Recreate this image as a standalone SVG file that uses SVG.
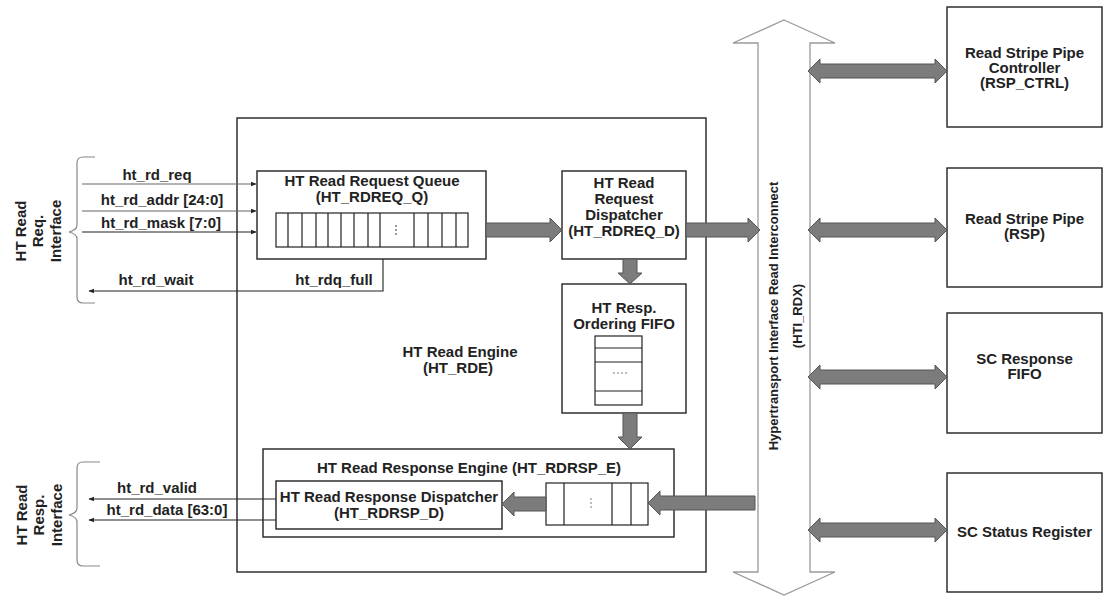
<svg xmlns="http://www.w3.org/2000/svg" width="1107" height="596" viewBox="0 0 1107 596">
<defs>
<style>
text{font-family:"Liberation Sans",Arial,sans-serif;font-weight:bold;font-size:15px;fill:#222;text-anchor:middle}
.box{fill:#fff;stroke:#222;stroke-width:1.4}
.cell{fill:none;stroke:#222;stroke-width:1.2}
.sig{fill:none;stroke:#222;stroke-width:1.1}
.sigl{fill:none;stroke:#666;stroke-width:1.1}
.fat{fill:#7c7c7c;stroke:#555;stroke-width:1}
.brace{fill:none;stroke:#888;stroke-width:1.2}
.dot{fill:#666}
</style>
<marker id="ah" viewBox="0 0 10 10" refX="9" refY="5" markerWidth="5" markerHeight="5" orient="auto">
<path d="M0,1 L10,5 L0,9 z" fill="#222"/>
</marker>
</defs>
<rect width="1107" height="596" fill="#fff"/>

<!-- bus -->
<g id="bus">
<polygon points="784,20 835,43 810,43 810,572 835,572 784,595 733,572 758,572 758,43 733,43" fill="#fff" stroke="#9a9a9a" stroke-width="1.3"/>
<text transform="translate(778,316) rotate(-90)" style="font-size:13px">Hypertransport Interface Read Interconnect</text>
<text transform="translate(802,316) rotate(-90)" style="font-size:13px">(HTI_RDX)</text>
</g>

<!-- main engine -->
<g id="ht_rde">
<rect class="box" x="237" y="118" width="469" height="454"/>
<text x="460" y="357">HT Read Engine</text>
<text x="458" y="373">(HT_RDE)</text>
</g>

<g id="ht_rdreq_q">
<rect class="box" x="257" y="171" width="229" height="88"/>
<text x="372" y="186">HT Read Request Queue</text>
<text x="372" y="202">(HT_RDREQ_Q)</text>
<rect class="cell" x="276" y="213" width="192" height="34"/>
<path class="cell" d="M288,213V247M302,213V247M316,213V247M328,213V247M341,213V247M354,213V247M368,213V247M380,213V247M414,213V247M428,213V247M442,213V247M456,213V247"/>
<circle class="dot" cx="396" cy="226" r="0.9"/><circle class="dot" cx="396" cy="230" r="0.9"/><circle class="dot" cx="396" cy="234" r="0.9"/>
</g>

<g id="ht_rdreq_d">
<rect class="box" x="562" y="171" width="124" height="88"/>
<text x="624" y="188">HT Read</text>
<text x="624" y="204">Request</text>
<text x="624" y="220">Dispatcher</text>
<text x="624" y="236">(HT_RDREQ_D)</text>
</g>

<g id="ht_resp_fifo">
<rect class="box" x="562" y="284" width="124" height="129"/>
<text x="624" y="313">HT Resp.</text>
<text x="624" y="329">Ordering FIFO</text>
<rect class="cell" x="595" y="336" width="47" height="69"/>
<path class="cell" d="M595,348H642M595,362H642M595,391H642"/>
<circle class="dot" cx="614" cy="373" r="0.8"/><circle class="dot" cx="618" cy="373" r="0.8"/><circle class="dot" cx="622" cy="373" r="0.8"/><circle class="dot" cx="626" cy="373" r="0.8"/>
</g>

<g id="ht_rdrsp_e">
<rect class="box" x="263" y="449" width="411" height="88"/>
<text x="469" y="473">HT Read Response Engine (HT_RDRSP_E)</text>
<rect class="cell" x="546" y="483" width="102" height="42"/>
<path class="cell" d="M564,483V525M612,483V525M631,483V525"/>
<circle class="dot" cx="591" cy="499" r="0.8"/><circle class="dot" cx="591" cy="503" r="0.8"/><circle class="dot" cx="591" cy="507" r="0.8"/>
</g>

<g id="ht_rdrsp_d">
<rect class="box" x="276" y="481" width="226" height="48"/>
<text x="389" y="502">HT Read Response Dispatcher</text>
<text x="389" y="518">(HT_RDRSP_D)</text>
</g>

<g id="rsp_ctrl">
<rect class="box" x="947" y="7" width="155" height="120"/>
<text x="1024.5" y="58">Read Stripe Pipe</text>
<text x="1024.5" y="73">Controller</text>
<text x="1024.5" y="88">(RSP_CTRL)</text>
</g>
<g id="rsp">
<rect class="box" x="947" y="168" width="155" height="119"/>
<text x="1024.5" y="224">Read Stripe Pipe</text>
<text x="1024.5" y="239">(RSP)</text>
</g>
<g id="sc_resp_fifo">
<rect class="box" x="947" y="313" width="155" height="120"/>
<text x="1024.5" y="364">SC Response</text>
<text x="1024.5" y="379">FIFO</text>
</g>
<g id="sc_status">
<rect class="box" x="947" y="473" width="155" height="119"/>
<text x="1024.5" y="537">SC Status Register</text>
</g>

<!-- interfaces -->
<g id="req_if">
<path class="brace" d="M95,157H83Q77,157 77,163V225Q77,230 69,232Q77,234 77,239V297Q77,303 83,303H95"/>
<text transform="translate(26,231) rotate(-90)">HT Read</text>
<text transform="translate(43,231) rotate(-90)">Req.</text>
<text transform="translate(61,231) rotate(-90)">Interface</text>
</g>
<g id="resp_if">
<path class="brace" d="M100,462H83Q77,462 77,468V508Q77,513 69,515Q77,517 77,522V560Q77,566 83,566H100"/>
<text transform="translate(27,515) rotate(-90)">HT Read</text>
<text transform="translate(44,515) rotate(-90)">Resp.</text>
<text transform="translate(62,515) rotate(-90)">Interface</text>
</g>

<!-- connectors -->
<g id="connectors">
<line class="sigl" x1="82" y1="184" x2="256" y2="184" marker-end="url(#ah)"/>
<line class="sigl" x1="82" y1="211" x2="256" y2="211" marker-end="url(#ah)"/>
<line class="sig" x1="82" y1="232" x2="256" y2="232" marker-end="url(#ah)"/>
<polyline class="sig" points="383,259 383,291 89,291" marker-end="url(#ah)"/>
<line class="sig" x1="276" y1="499" x2="89" y2="499" marker-end="url(#ah)"/>
<line class="sig" x1="276" y1="520" x2="89" y2="520" marker-end="url(#ah)"/>
<polygon class="fat" points="486,223 550,223 550,218 562,230 550,242 550,237 486,237"/>
<polygon class="fat" points="686,223 748,223 748,218 760,230 748,242 748,237 686,237"/>
<polygon class="fat" points="623,259 623,273 618,273 630,284 642,273 637,273 637,259"/>
<polygon class="fat" points="623,413 623,437 618,437 630,449 642,437 637,437 637,413"/>
<polygon class="fat" points="546,497 514,497 514,492 502,504 514,516 514,511 546,511"/>
<polygon class="fat" points="755,496 660,496 660,491 648,503 660,515 660,510 755,510"/>
<polygon class="fat" points="808,71 820,59 820,64 935,64 935,59 947,71 935,83 935,78 820,78 820,83"/>
<polygon class="fat" points="808,230 820,218 820,223 935,223 935,218 947,230 935,242 935,237 820,237 820,242"/>
<polygon class="fat" points="808,377 820,365 820,370 935,370 935,365 947,377 935,389 935,384 820,384 820,389"/>
<polygon class="fat" points="808,530 820,518 820,523 935,523 935,518 947,530 935,542 935,537 820,537 820,542"/>
</g>

<!-- signal labels -->
<g id="labels">
<text x="157" y="180">ht_rd_req</text>
<text x="162" y="205">ht_rd_addr [24:0]</text>
<text x="161" y="228">ht_rd_mask [7:0]</text>
<text x="156" y="285">ht_rd_wait</text>
<text x="334" y="285">ht_rdq_full</text>
<text x="157" y="493">ht_rd_valid</text>
<text x="167" y="515">ht_rd_data [63:0]</text>
</g>
</svg>
